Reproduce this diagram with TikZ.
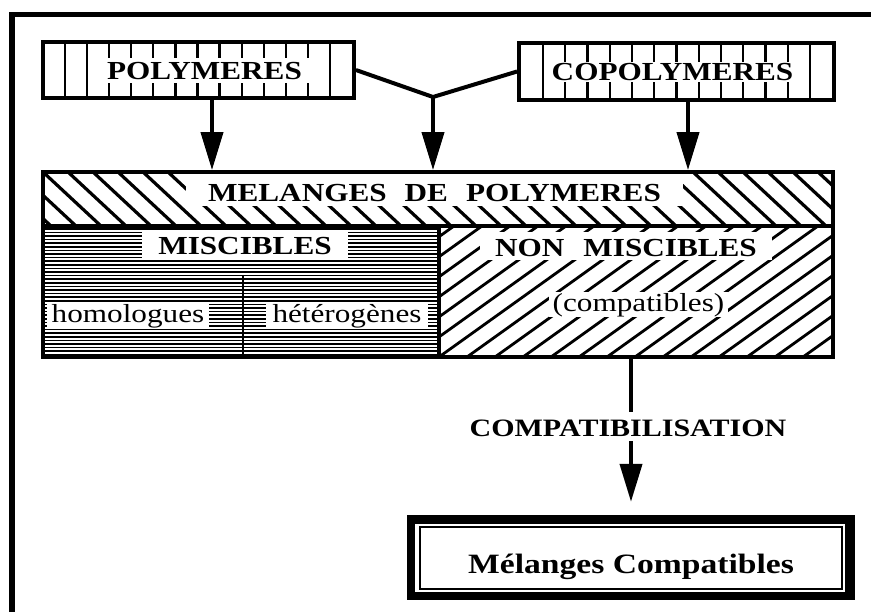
\documentclass[tikz,border=0pt]{standalone}
\usepackage{fontspec}
\setmainfont[FakeStretch=1.2]{Liberation Serif}
\usetikzlibrary{arrows.meta}
\begin{document}
\begin{tikzpicture}[x=1pt,y=-1pt,
  box/.style={draw, line width=3.8pt, inner sep=0pt},
  lab/.style={fill=white, inner ysep=0pt, anchor=base, font=\bfseries\fontsize{26}{30}\selectfont},
  rlab/.style={fill=white, inner ysep=0pt, anchor=base, font=\fontsize{26}{30}\selectfont},
  conn/.style={line width=4pt},
  arr/.style={line width=4pt, -{Triangle[length=38pt,width=22pt]}},
  vhatch/.style={line width=2.2pt},
  dhatch/.style={line width=3.2pt},
  hhatch/.style={line width=1.7pt}]
\useasboundingbox (0,0) rectangle (871,612);
% frame
\draw[line width=5.5pt] (12,612) -- (12,14.5) -- (871,14.5);

% top boxes
\node[box, minimum width=311pt, minimum height=56pt] (poly) at (198.5,70) {};
\node[box, minimum width=315pt, minimum height=57pt] (copoly) at (676.5,71.5) {};
\begin{scope}
  \clip (poly.north west) rectangle (poly.south east);
  \foreach \i in {0,...,12} \draw[vhatch] ({65+22.08*\i},40) -- ({65+22.08*\i},100);
\end{scope}
\begin{scope}
  \clip (copoly.north west) rectangle (copoly.south east);
  \foreach \i in {0,...,12} \draw[vhatch] ({543+22.25*\i},40) -- ({543+22.25*\i},102);
\end{scope}
\node[lab, text height=22pt, text depth=3pt, inner xsep=8pt] (polyt) at (204.5,80) {POLYMERES};
\node[lab, text height=19pt, text depth=1pt, inner xsep=3pt] (copolyt) at (672.5,81) {COPOLYMERES};

% main block
\node[box, minimum width=790pt, minimum height=54pt] (mel) at (438,199) {};
\node[box, minimum width=396pt, minimum height=131pt] (misc) at (241,291.5) {};
\node[box, minimum width=394pt, minimum height=131pt] (nonmisc) at (636,291.5) {};
\begin{scope}
  \clip (mel.north west) rectangle (mel.south east);
  \foreach \i in {-3,...,32} \draw[dhatch] ({43+25*\i},172) -- ({43+25*\i+58},226);
\end{scope}
\begin{scope}
  \clip (misc.north west) rectangle (misc.south east);
  \foreach \i in {0,...,35} \draw[hhatch] (43,{228.8+3.6*\i}) -- (439,{228.8+3.6*\i});
\end{scope}
\begin{scope}
  \clip (nonmisc.north west) rectangle (nonmisc.south east);
  \foreach \i in {-7,...,15} \draw[line width=2.8pt] ({439+28*\i},357) -- ({439+28*\i+183},226);
\end{scope}
\draw[line width=1.6pt] (243,275) -- (misc.south -| 243,0);

\node[lab, text height=28pt, text depth=4pt, inner xsep=22pt] (melt) at (434.5,202) {MELANGES\hspace{18pt}DE\hspace{18pt}POLYMERES};
\node[lab, text height=24pt, text depth=4pt, inner xsep=16pt] (misct) at (245,255) {MISCIBLES};
\node[rlab, text height=20pt, text depth=4pt, inner xsep=5pt] (homo) at (128,323) {homologues};
\node[rlab, text height=20pt, text depth=4pt, inner xsep=7pt] (hetero) at (347,323) {hétérogènes};
\node[lab, text height=25pt, text depth=3pt, inner xsep=15pt] (nmt) at (626,257) {NON\hspace{19pt}MISCIBLES};
\node[rlab, text height=20pt, text depth=5pt, inner xsep=4pt] (compat) at (638.5,312) {(compatibles)};

% connectors
\coordinate (j) at (433,97);
\draw[conn, line join=round] (poly.east) -- (j) -- (copoly.west);
\draw[arr] (j) -- (j |- mel.north);
\draw[arr] ([xshift=13.5pt]poly.south) -- ([xshift=13.5pt]poly.south |- mel.north);
\draw[arr] ([xshift=11.5pt]copoly.south) -- ([xshift=11.5pt]copoly.south |- mel.north);

% result box
\node[fill=black, minimum width=448pt, minimum height=85pt, inner sep=0pt] (res) at (631,557.5) {};
\fill[white] (415,524) rectangle (845,592);
\draw[line width=1.3pt] (420,527) rectangle (842,589);
\node[anchor=base, font=\bfseries\fontsize{28}{32}\selectfont] (rest) at (631,573) {Mélanges Compatibles};

\draw[arr, shorten >=13pt] (nonmisc.south -| res.north) -- (res.north);
\node[lab, font=\bfseries\fontsize{25}{30}\selectfont, text height=25pt, text depth=4pt, inner xsep=2pt] (compl) at (628,437) {COMPATIBILISATION};
\end{tikzpicture}
\end{document}
